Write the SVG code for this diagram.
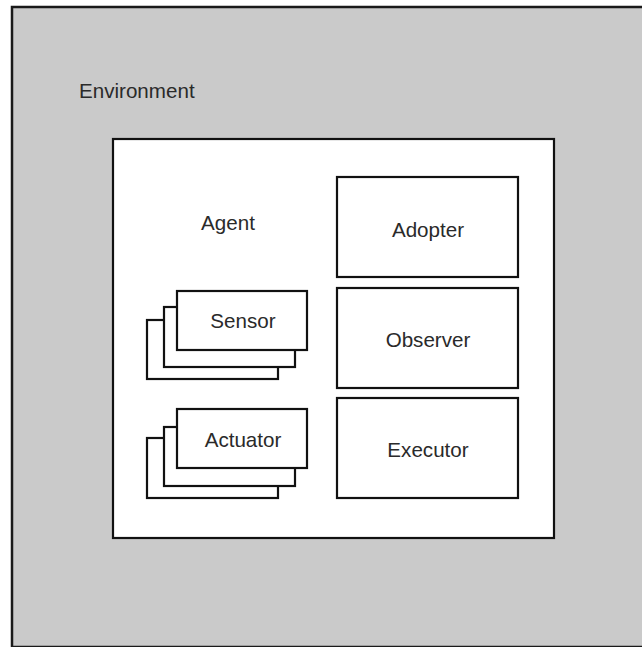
<svg xmlns="http://www.w3.org/2000/svg" width="642" height="647" viewBox="0 0 642 647">
  <style>
    .box { fill: #ffffff; stroke: #111111; stroke-width: 2.2; }
    .env { fill: #cacaca; stroke: #1a1a1a; stroke-width: 2.5; }
    .lbl { font-family: "Liberation Sans", Arial, sans-serif; font-size: 20.6px; fill: #2a2a2a; }
    .mid { text-anchor: middle; }
  </style>

  <!-- Environment -->
  <g id="environment">
    <rect class="env" x="12" y="7" width="645" height="640"/>
    <text class="lbl" x="79" y="98">Environment</text>
  </g>

  <!-- Agent container -->
  <g id="agent">
    <rect class="box" x="113" y="139" width="441" height="399"/>
    <text class="lbl mid" x="228" y="230">Agent</text>
  </g>

  <!-- Sensor stack -->
  <g id="sensor">
    <rect class="box" x="147" y="320" width="131" height="59"/>
    <rect class="box" x="164" y="307" width="131" height="60"/>
    <rect class="box" x="177" y="291" width="130" height="59"/>
    <text class="lbl mid" x="243" y="328">Sensor</text>
  </g>

  <!-- Actuator stack -->
  <g id="actuator">
    <rect class="box" x="147" y="438" width="131" height="60"/>
    <rect class="box" x="164" y="427" width="131" height="59"/>
    <rect class="box" x="177" y="409" width="130" height="59"/>
    <text class="lbl mid" x="243" y="447">Actuator</text>
  </g>

  <g id="adopter">
    <rect class="box" x="337" y="177" width="181" height="100"/>
    <text class="lbl mid" x="428" y="237">Adopter</text>
  </g>

  <g id="observer">
    <rect class="box" x="337" y="288" width="181" height="100"/>
    <text class="lbl mid" x="428" y="347">Observer</text>
  </g>

  <g id="executor">
    <rect class="box" x="337" y="398" width="181" height="100"/>
    <text class="lbl mid" x="428" y="457">Executor</text>
  </g>

  <g id="connectors"></g>
</svg>
